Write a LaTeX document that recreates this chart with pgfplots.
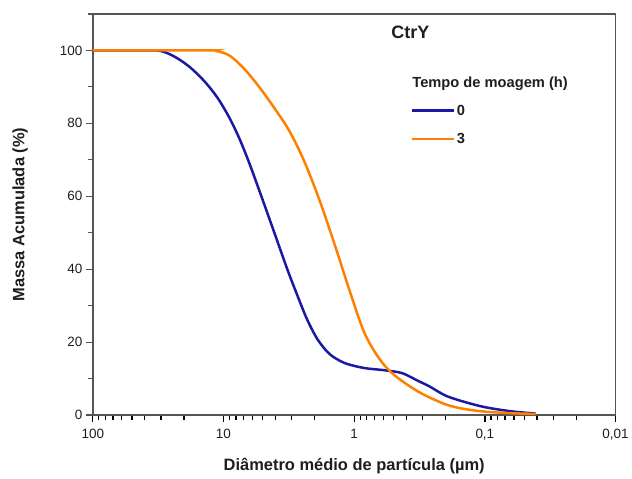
\documentclass[border=0pt]{standalone}
\usepackage{fontspec}
\setmainfont{Liberation Sans}
\usepackage{pgfplots}
\pgfplotsset{compat=1.18}
\definecolor{cblue}{RGB}{25,25,165}
\definecolor{corange}{RGB}{255,128,0}
\definecolor{axgray}{RGB}{85,85,85}
\definecolor{txt}{RGB}{30,30,30}
\pgfplotstableread{
d v
100 100
45 100
30.8 99.9
23.7 98.3
18.2 95.5
13.96 91.5
11.1 87
9.0 81.5
7.55 75.8
6.33 69.0
5.13 60.0
4.08 50.0
3.25 40.0
2.72 32.8
2.29 26.2
1.91 20.8
1.55 16.8
1.19 14.3
0.839 12.9
0.590 12.3
0.430 11.5
0.330 9.5
0.267 7.9
0.199 5.3
0.140 3.5
0.098 2.1
0.0622 1.0
0.0408 0.4
}\blue
\pgfplotstableread{
d v
100 100
14 100
11.5 99.9
9.0 98.6
6.91 94.9
5.31 89.9
4.08 84.2
3.13 77.9
2.41 69.6
1.85 59.1
1.42 47.1
1.09 34.4
0.839 22.7
0.644 15.5
0.495 11.0
0.319 6.3
0.199 2.9
0.140 1.6
0.098 0.9
0.0622 0.5
0.0408 0.3
}\orange
\begin{document}
\begin{tikzpicture}
\begin{axis}[
  scale only axis, width=524pt, height=402pt,
  xmode=log, x dir=reverse, xmin=0.01, xmax=100,
  ymin=0, ymax=110,
  /pgf/number format/assume math mode=true,
  xtick={100,10,1,0.1,0.01}, xticklabels={100,10,1,{0,1},{0,01}},
  minor xtick={20,30,40,50,60,70,80,90,2,3,4,5,6,7,8,9,0.2,0.3,0.4,0.5,0.6,0.7,0.8,0.9,0.02,0.03,0.04,0.05,0.06,0.07,0.08,0.09},
  ytick={0,20,...,100}, minor ytick={10,30,...,110},
  xtick pos=bottom, ytick pos=left,
  xtick align=outside, ytick align=outside,
  major tick length=7pt, minor tick length=5pt,
  axis line style={axgray, line width=1.5pt},
  x tick style={black, line width=1.3pt},
  y tick style={axgray, line width=1.2pt},
  tick label style={font=\fontsize{13.5}{15}\selectfont, text=txt},
  xticklabel style={yshift=-4pt},
  label style={font=\bfseries\fontsize{16.5}{19}\selectfont, text=txt},
  xlabel={Diâmetro médio de partícula (µm)},
  ylabel={Massa Acumulada (\%)},
  xlabel style={at={(axis description cs:0.5,-0.127)}, anchor=center},
  ylabel style={at={(axis description cs:-0.139,0.5)}, anchor=center},
  legend style={at={(rel axis cs:0.6015,0.784)}, anchor=north west, draw=none, fill=none,
    font=\bfseries\fontsize{14.7}{17}\selectfont, row sep=12.5pt, text=txt},
  legend cell align=left,
  legend image code/.code={\draw[#1, line width=2.5pt] (0pt,0pt) -- (42pt,0pt);},
]
\addplot[cblue, line width=2.5pt, smooth] table[x=d,y=v]{\blue};
\addlegendentry{0}
\addplot[corange, line width=2.5pt, smooth] table[x=d,y=v]{\orange};
\addlegendentry{3}
\node[anchor=west, inner sep=0pt, text=txt, font=\bfseries\fontsize{18}{20}\selectfont] at (rel axis cs:0.571,0.953) {CtrY};
\node[anchor=west, inner sep=0pt, text=txt, font=\bfseries\fontsize{14.7}{17}\selectfont] at (rel axis cs:0.611,0.826) {Tempo de moagem (h)};
\end{axis}
\path ([shift={(-93pt,-64pt)}]current axis.south west) rectangle ([shift={(15pt,14pt)}]current axis.north east);
\end{tikzpicture}
\end{document}
